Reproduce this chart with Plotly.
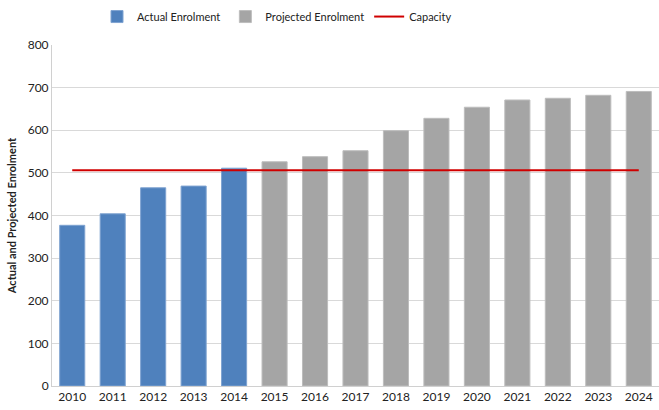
import plotly.graph_objects as go

years = [str(y) for y in range(2010, 2025)]
actual_years = years[:5]
actual_values = [377, 404, 465, 469, 511]
projected_years = years[5:]
projected_values = [526, 538, 552, 599, 628, 654, 671, 675, 682, 691]
capacity_values = [506] * len(years)

font = "Lato"
fig = go.Figure()
fig.add_trace(go.Bar(x=actual_years, y=actual_values, name="Actual Enrolment",
                     marker=dict(color="#4F81BD", line=dict(color="#7FA3D1", width=1)),
                     width=0.62))
fig.add_trace(go.Bar(x=projected_years, y=projected_values, name="Projected Enrolment",
                     marker=dict(color="#A5A5A5", line=dict(color="#BDBDBD", width=1)),
                     width=0.62))
fig.add_trace(go.Scatter(x=years, y=capacity_values, name="Capacity", mode="lines",
                         line=dict(color="#D00000", width=2)))

fig.update_layout(
    width=659, height=410,
    margin=dict(l=52, r=0, t=45, b=24),
    plot_bgcolor="white", paper_bgcolor="white",
    barmode="overlay",
    font=dict(family=font, size=12, color="#333333"),
    legend=dict(orientation="h", x=97 / 659, xanchor="left", xref="container",
                y=0.995, yanchor="top", yref="container",
                font=dict(size=11, color="#222"), traceorder="normal",
                itemwidth=30),
    xaxis=dict(type="category", categoryorder="array", categoryarray=years,
               showline=True, linecolor="#D0D0D0", ticks="", tickfont=dict(size=12, color="#222")),
    yaxis=dict(range=[0, 800], dtick=100, showgrid=True, gridcolor="#D9D9D9",
               showline=True, linecolor="#D0D0D0", zeroline=False,
               tickfont=dict(size=12, color="#222"),
               title=dict(text="<b>Actual and Projected Enrolment</b>", font=dict(size=11, color="#222"), standoff=8)),
)
fig.write_html("out.html", config={"displayModeBar": False})

with open("out.html", "r", encoding="utf-8") as f:
    html = f.read()
html = html.replace("<head>", "<head><style>html,body{margin:0;padding:0;overflow:hidden}</style>", 1)
with open("out.html", "w", encoding="utf-8") as f:
    f.write(html)
